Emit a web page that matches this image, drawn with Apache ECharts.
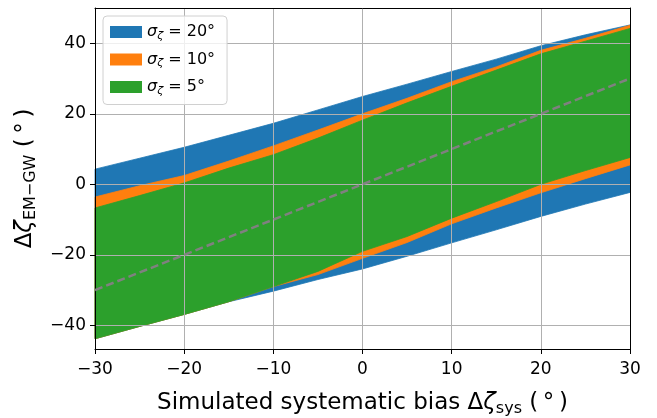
<!DOCTYPE html>
<html>
<head>
<meta charset="utf-8">
<script src="https://cdn.jsdelivr.net/npm/echarts@6/dist/echarts.min.js"></script>
<style>
    html, body {margin: 0; padding: 0; background: #fff;}
    #chart {width: 657px; height: 418px;}
</style>
</head>
<body>
<div id="chart"></div>
<script>
// simulated bias (x) and band edges
var xVals = [-30, -25, -20, -15, -10, -5, 0, 5, 10, 15, 20, 25, 30];

var blueHi = [4.3, 7.4, 10.5, 13.9, 17.3, 21.1, 24.9, 28.4, 32.0, 35.5, 39.3, 42.4, 45.2];
var blueLo = [-43.8, -40.3, -36.9, -33.3, -30.3, -27.0, -24.0, -20.4, -16.6, -12.9, -9.1, -5.6, -2.3];
var orangeHi = [-3.6, -0.4, 2.5, 6.6, 10.9, 15.4, 20.0, 24.4, 29.1, 33.3, 38.0, 41.4, 45.1];
var orangeLo = [-43.8, -40.3, -36.9, -33.3, -29.0, -25.6, -21.0, -16.5, -11.2, -6.7, -2.4, 1.6, 5.5];
var greenHi = [-6.7, -3.2, 0.4, 4.6, 8.4, 13.1, 18.2, 23.1, 27.8, 32.4, 37.0, 40.6, 44.2];
var greenLo = [-43.8, -40.3, -36.9, -33.3, -29.0, -24.7, -19.0, -14.8, -9.6, -4.9, 0.0, 3.9, 7.6];

// y = x reference line
var diagX = [-30, 30];
var diagY = [-30, 30];

var sigmaNames = ['20', '10', '5'];

var FONT = 'DejaVu Sans';

function minusFmt(v) {
    return String(v).replace('-', '\u2212');
}

// fill between lo and hi, drawn as one polygon (like fill_between)
function band(name, lo, hi, color) {
    return {
        name: name,
        type: 'custom',
        coordinateSystem: 'cartesian2d',
        data: xVals.map(function (x, i) { return [x, lo[i], hi[i]]; }),
        encode: {x: 0, y: [1, 2]},
        itemStyle: {color: color},
        silent: true,
        z: 1,
        renderItem: function (params, api) {
            if (params.dataIndex !== 0) {
                return null;
            }
            var pts = [];
            for (var i = 0; i < xVals.length; i++) {
                pts.push(api.coord([xVals[i], hi[i]]));
            }
            for (var j = xVals.length - 1; j >= 0; j--) {
                pts.push(api.coord([xVals[j], lo[j]]));
            }
            return {
                type: 'polygon',
                shape: {points: pts},
                style: {fill: color, stroke: color, lineWidth: 0.8}
            };
        }
    };
}

var colors = ['#1f77b4', '#ff7f0e', '#2ca02c'];
var series = [
    band(sigmaNames[0], blueLo, blueHi, colors[0]),
    band(sigmaNames[1], orangeLo, orangeHi, colors[1]),
    band(sigmaNames[2], greenLo, greenHi, colors[2])
];

series.push({
    type: 'line',
    data: diagX.map(function (x, i) { return [x, diagY[i]]; }),
    symbol: 'none',
    silent: true,
    lineStyle: {color: '#808080', width: 2.5, type: [8, 4]},
    z: 3
});

var dom = document.getElementById('chart');
var myChart = echarts.init(dom);

var nameRich = {
    t: {fontFamily: FONT, fontSize: 23, lineHeight: 28, color: '#000'},
    i: {fontFamily: FONT, fontStyle: 'italic', fontSize: 23, lineHeight: 28, color: '#000'},
    s: {fontFamily: FONT, fontSize: 16, lineHeight: 15, verticalAlign: 'bottom', color: '#000'}
};

var option = {
    animation: false,
    grid: {
        left: 95,
        right: 27,
        top: 8,
        bottom: 69,
        outerBoundsMode: 'none'
    },
    legend: {
        orient: 'vertical',
        left: 103,
        top: 16,
        icon: 'rect',
        itemWidth: 32,
        itemHeight: 12,
        itemGap: 10,
        padding: [8, 12, 8, 7],
        backgroundColor: 'rgba(255,255,255,0.8)',
        borderColor: '#d0d0d0',
        borderWidth: 1,
        borderRadius: 4,
        data: sigmaNames.map(function (n, i) {
            return {name: n, itemStyle: {color: colors[i]}};
        }),
        formatter: function (name) {
            return '{i|\u03c3}{s|\u03b6}{t| = ' + name + '\u00b0}';
        },
        textStyle: {
            fontFamily: FONT,
            color: '#000',
            rich: {
                i: {fontFamily: FONT, fontStyle: 'italic', fontSize: 16, lineHeight: 19},
                s: {fontFamily: FONT, fontStyle: 'italic', fontSize: 11, lineHeight: 11, verticalAlign: 'bottom'},
                t: {fontFamily: FONT, fontSize: 16, lineHeight: 19}
            }
        }
    },
    xAxis: [
        {
            type: 'value',
            min: -30,
            max: 30,
            interval: 10,
            z: 2,
            name: '{t|Simulated systematic bias \u0394}{i|\u03b6}{s|sys}{t| (\u2009\u00b0\u2009)}',
            nameLocation: 'middle',
            nameGap: 40,
            nameTextStyle: {rich: nameRich},
            axisLine: {onZero: false, lineStyle: {color: '#000', width: 1}},
            axisTick: {length: 5, lineStyle: {color: '#000'}},
            axisLabel: {
                fontFamily: FONT, fontSize: 17, color: '#000', margin: 12,
                formatter: minusFmt
            },
            splitLine: {show: true, lineStyle: {color: '#b0b0b0', width: 1}}
        },
        {
            type: 'value',
            position: 'top',
            min: -30,
            max: 30,
            z: 2,
            axisLine: {onZero: false, lineStyle: {color: '#000', width: 1}},
            axisTick: {show: false},
            axisLabel: {show: false},
            splitLine: {show: false}
        }
    ],
    yAxis: [
        {
            type: 'value',
            min: -46.7,
            max: 50,
            splitNumber: 5,
            z: 2,
            name: '{t|\u0394}{i|\u03b6}{s|EM\u2212GW}{t| (\u2009\u00b0\u2009)}',
            nameLocation: 'middle',
            nameRotate: 90,
            nameGap: 53,
            nameTextStyle: {rich: nameRich},
            axisLine: {onZero: false, lineStyle: {color: '#000', width: 1}},
            axisTick: {length: 5, lineStyle: {color: '#000'}},
            axisLabel: {
                fontFamily: FONT, fontSize: 17, color: '#000', margin: 9,
                showMinLabel: false, showMaxLabel: false,
                formatter: minusFmt
            },
            splitLine: {show: true, lineStyle: {color: '#b0b0b0', width: 1}}
        },
        {
            type: 'value',
            position: 'right',
            min: -46.7,
            max: 50,
            z: 2,
            axisLine: {onZero: false, lineStyle: {color: '#000', width: 1}},
            axisTick: {show: false},
            axisLabel: {show: false},
            splitLine: {show: false}
        }
    ],
    series: series
};

myChart.setOption(option);
</script>
</body>
</html>
